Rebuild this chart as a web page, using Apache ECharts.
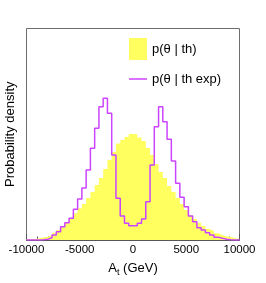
<!DOCTYPE html>
<html>
<head>
<meta charset="utf-8">
<script src="https://cdn.jsdelivr.net/npm/echarts@6/dist/echarts.min.js"></script>
<style>
html,body{margin:0;padding:0;background:#fff;}
#c{width:266px;height:283px;}
</style>
</head>
<body>
<div id="c"></div>
<script>
// Bin layout: 50 bins of 400 GeV from -10000 to 10000
const binStart = -10000;
const binWidth = 400;
const xTicks = [-10000, -5000, 0, 5000, 10000];

// p(theta | th) — yellow filled histogram (relative density per bin)
const thValues = [
  0.8, 1, 1.7, 2.5, 3.3, 5, 7.3, 10, 13.3, 17.3,
  21.7, 26.7, 31.7, 36, 42, 48, 55, 62, 71, 80,
  88, 96.5, 100, 103, 106, 106, 102.5, 99, 92, 85,
  76, 68, 62, 54, 48, 42, 36, 30, 25, 21,
  17.3, 14, 11, 9, 6.7, 5, 3.5, 3, 1.7, 1.2
];

// p(theta | th exp) — magenta step line
const thExpValues = [
  0, 0, 0, 0.3, 0.7, 2.3, 5, 8.3, 13.3, 17.3,
  21.7, 30.7, 41, 52, 70, 91.7, 111.7, 133.3, 141.7, 126.7,
  85, 41.7, 24, 16.7, 14.3, 14.3, 16.7, 21, 38.3, 75,
  113.3, 133.3, 118.3, 100.7, 79, 56.7, 42.7, 33.3, 24, 18.3,
  12.3, 10, 7.3, 5, 2.7, 1.7, 0.7, 0.3, 0, 0
];

const legendTh = 'p(θ | th)';
const legendExp = 'p(θ | th exp)';

function toSteps(vals) {
  const pts = vals.map((v, i) => [binStart + i * binWidth, v]);
  pts.push([binStart + vals.length * binWidth, vals[vals.length - 1]]);
  return pts;
}

const chart = echarts.init(document.getElementById('c'), null, {renderer: 'canvas'});
const font = 'Liberation Sans, Arial, sans-serif';
chart.setOption({
  animation: false,
  backgroundColor: '#ffffff',
  grid: {left: 26.5, right: 26.5, top: 28.5, bottom: 43, show: true, borderColor: '#6e6e6e', borderWidth: 1,
    backgroundColor: 'transparent', containLabel: false, outerBoundsMode: 'none'},
  legend: [
    {
      data: [legendTh], left: 129, top: 38, icon: 'rect', itemWidth: 18, itemHeight: 22,
      itemGap: 0, padding: 0,
      textStyle: {fontFamily: font, fontSize: 13, color: '#000'}
    },
    {
      data: [legendExp], left: 129, top: 72.5, icon: 'rect', itemWidth: 18, itemHeight: 1.5,
      itemGap: 0, padding: 0,
      textStyle: {fontFamily: font, fontSize: 13, color: '#000'}
    }
  ],
  xAxis: {
    type: 'value', min: xTicks[0], max: xTicks[xTicks.length - 1], interval: 5000,
    name: '{a|A}{s|t}{a| (GeV)}', nameLocation: 'middle', nameGap: 19,
    nameTextStyle: {
      fontFamily: font, color: '#000',
      rich: {
        a: {fontFamily: font, fontSize: 13, color: '#000', lineHeight: 18, verticalAlign: 'middle'},
        s: {fontFamily: font, fontSize: 9, color: '#000', lineHeight: 8, verticalAlign: 'bottom'}
      }
    },
    axisLine: {show: true, lineStyle: {color: '#555', width: 1}},
    axisTick: {show: true, inside: true, length: 6, lineStyle: {color: '#555'}},
    minorTick: {show: true, splitNumber: 5, length: 3.5, lineStyle: {color: '#555'}},
    axisLabel: {fontFamily: font, fontSize: 11.5, color: '#000', margin: 4,
      formatter: function (v) { return String(v); }},
    splitLine: {show: false}
  },
  yAxis: {
    type: 'value', min: 0, max: 211.5,
    name: 'Probability density', nameLocation: 'middle', nameGap: 9.5,
    nameTextStyle: {fontFamily: font, fontSize: 13, color: '#000'},
    axisLine: {show: false}, axisTick: {show: false}, axisLabel: {show: false},
    splitLine: {show: false}
  },
  series: [
    {
      name: legendTh, type: 'line', step: 'end', data: toSteps(thValues),
      symbol: 'none', lineStyle: {width: 0, color: '#ffff60'},
      itemStyle: {color: '#ffff60'},
      areaStyle: {color: '#ffff60', opacity: 1}, z: 2
    },
    {
      name: legendExp, type: 'line', step: 'end', data: toSteps(thExpValues),
      symbol: 'none', lineStyle: {width: 1.5, color: '#cc44ff'},
      itemStyle: {color: '#cc44ff'}, z: 3
    }
  ]
});
</script>
</body>
</html>
